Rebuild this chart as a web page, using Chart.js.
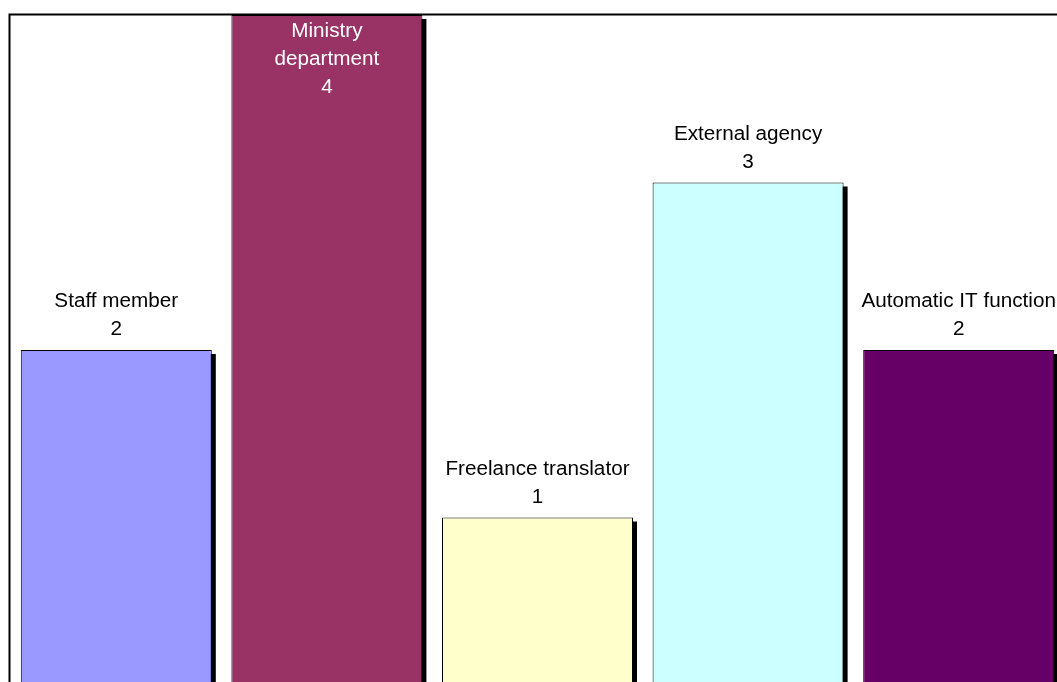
<!DOCTYPE html>
<html>
<head>
<meta charset="utf-8">
<title>Who translates</title>
<script src="https://cdn.jsdelivr.net/npm/chart.js@4/dist/chart.umd.min.js"></script>
<style>
  html, body { margin: 0; padding: 0; background: #fff; overflow: hidden; }
  #vis-bars { position: relative; width: 1064px; height: 685px; }
</style>
</head>
<body>
<div id="vis-bars"><canvas id="chart"></canvas></div>
<script>
// categories (multi-line names are pre-split the way they wrap)
const categories = [
    'Staff member',
    ['Ministry', 'department'],
    'Freelance translator',
    'External agency',
    'Automatic IT function'
];
const counts = [2, 4, 1, 3, 2];
const barColors = ['#9999FF', '#993366', '#FFFFCC', '#CCFFFF', '#660066'];
const axisMin = 0;
const axisMax = 4;

const LABEL_FONT = '20px "Liberation Sans", Arial, sans-serif';
const LABEL_STRETCH = 1.035;
const LINE_STEP = 28;

// black drop shadow behind every bar, offset down-right
const barShadow = {
    id: 'barShadow',
    beforeDatasetsDraw(chart) {
        const ctx = chart.ctx;
        ctx.save();
        ctx.fillStyle = '#000';
        chart.getDatasetMeta(0).data.forEach(bar => {
            const p = bar.getProps(['x', 'y', 'base', 'width'], true);
            ctx.fillRect(p.x - p.width / 2 + 4, p.y + 4, p.width, p.base - p.y);
        });
        ctx.restore();
    }
};

// plot area frame: only the top and left edges fall inside the page
const plotFrame = {
    id: 'plotFrame',
    afterDraw(chart) {
        const { ctx, chartArea } = chart;
        ctx.save();
        ctx.strokeStyle = '#000';
        ctx.lineWidth = 2;
        ctx.beginPath();
        ctx.moveTo(chartArea.left - 1.5, chart.height);
        ctx.lineTo(chartArea.left - 1.5, chartArea.top - 0.5);
        ctx.lineTo(chart.width, chartArea.top - 0.5);
        ctx.stroke();
        ctx.restore();
    }
};

// category name + value stacked above each bar
const barLabels = {
    id: 'barLabels',
    afterDatasetsDraw(chart) {
        const { ctx, chartArea } = chart;
        const values = chart.data.datasets[0].data;
        ctx.save();
        ctx.font = LABEL_FONT;
        ctx.textAlign = 'center';
        ctx.textBaseline = 'alphabetic';
        chart.getDatasetMeta(0).data.forEach((bar, i) => {
            const cat = chart.data.labels[i];
            const lines = (Array.isArray(cat) ? cat : [cat]).concat(String(values[i]));
            let firstBase = bar.y - 15 - LINE_STEP * (lines.length - 1);
            let color = '#000';
            if (firstBase - 16 < chartArea.top) {
                // no room above the bar: put the text inside it
                firstBase = bar.y + 22;
                color = '#fff';
            }
            ctx.fillStyle = color;
            lines.forEach((line, k) => {
                ctx.save();
                ctx.translate(bar.x, firstBase + k * LINE_STEP);
                ctx.scale(LABEL_STRETCH, 1);
                ctx.fillText(line, 0, 0);
                ctx.restore();
            });
        });
        ctx.restore();
    }
};

new Chart(document.getElementById('chart'), {
    type: 'bar',
    data: {
        labels: categories,
        datasets: [{
            data: counts,
            backgroundColor: barColors,
            borderColor: '#000',
            borderWidth: 1,
            borderSkipped: false,
            categoryPercentage: 1.0,
            barPercentage: 0.907
        }]
    },
    options: {
        responsive: true,
        maintainAspectRatio: false,
        animation: false,
        layout: { padding: { left: 11, top: 15, right: 0, bottom: 0 } },
        plugins: {
            legend: { display: false },
            tooltip: { enabled: false }
        },
        scales: {
            x: { display: false },
            y: { display: false, min: axisMin, max: axisMax }
        }
    },
    plugins: [barShadow, barLabels, plotFrame]
});
</script>
</body>
</html>
